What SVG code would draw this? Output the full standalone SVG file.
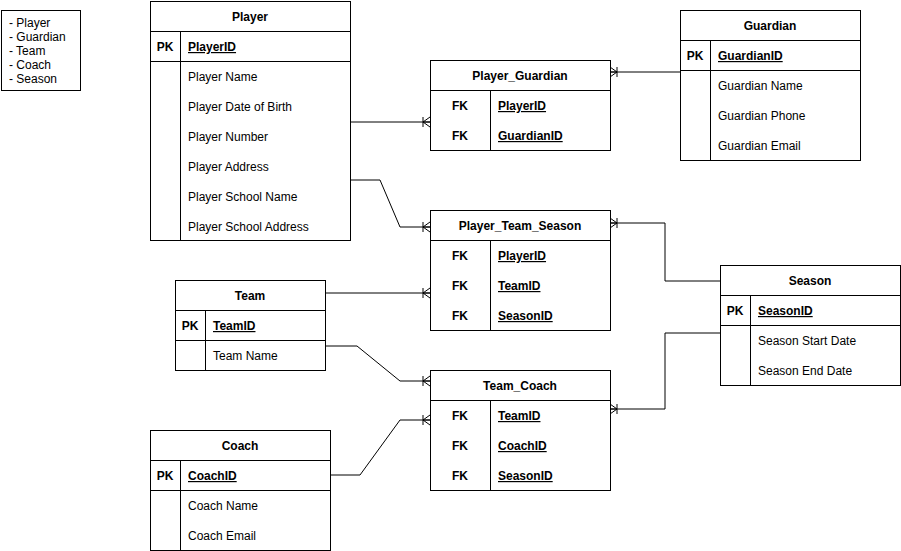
<svg xmlns="http://www.w3.org/2000/svg" width="901" height="551" viewBox="0 0 901 551">
<defs>
<style>
text{font-family:"Liberation Sans",Arial,sans-serif;font-size:12px;fill:#000}
.t{font-weight:bold;text-anchor:middle}
.k{font-weight:bold;text-anchor:middle}
.pk{font-weight:bold;text-decoration:underline}
.box{fill:#fff;stroke:#000;stroke-width:1}
.ln{fill:none;stroke:#000;stroke-width:1}
.c{fill:none;stroke:#000;stroke-width:1}
</style>
<marker id="many" viewBox="0 0 10 12" markerWidth="10" markerHeight="12" refX="10" refY="6" orient="auto" markerUnits="userSpaceOnUse">
<path d="M3,1V11M10,1L3,6L10,11M3,6H10" fill="none" stroke="#000" stroke-width="1"/>
</marker>
</defs>
<rect width="901" height="551" fill="#fff"/>

<g id="legend">
<rect class="box" x="1.5" y="10.5" width="79" height="80"/>
<text x="9" y="27">- Player</text>
<text x="9" y="41">- Guardian</text>
<text x="9" y="55">- Team</text>
<text x="9" y="69">- Coach</text>
<text x="9" y="83">- Season</text>
</g>

<g id="connectors">
<path class="c" d="M350,122H430" marker-end="url(#many)"/>
<path class="c" d="M680,72H610" marker-end="url(#many)"/>
<path class="c" d="M350,180H380L400,227H430" marker-end="url(#many)"/>
<path class="c" d="M720,281H665V223H610" marker-end="url(#many)"/>
<path class="c" d="M720,333H665V409H610" marker-end="url(#many)"/>
<path class="c" d="M325,293H430" marker-end="url(#many)"/>
<path class="c" d="M325,346H357L400,381H430" marker-end="url(#many)"/>
<path class="c" d="M330,475H360L400,420H430" marker-end="url(#many)"/>
</g>

<g id="player">
<rect class="box" x="150.5" y="1.5" width="200" height="239"/>
<path class="ln" d="M150.5,31.5H350.5M150.5,61.5H350.5M180.5,31.5V240.5"/>
<text class="t" x="250" y="21">Player</text>
<text class="k" x="165" y="51">PK</text>
<text class="pk" x="188" y="51">PlayerID</text>
<text x="188" y="81">Player Name</text>
<text x="188" y="111">Player Date of Birth</text>
<text x="188" y="141">Player Number</text>
<text x="188" y="171">Player Address</text>
<text x="188" y="201">Player School Name</text>
<text x="188" y="231">Player School Address</text>
</g>

<g id="guardian">
<rect class="box" x="680.5" y="10.5" width="180" height="150"/>
<path class="ln" d="M680.5,40.5H860.5M680.5,70.5H860.5M710.5,40.5V160.5"/>
<text class="t" x="770" y="30">Guardian</text>
<text class="k" x="695" y="60">PK</text>
<text class="pk" x="718" y="60">GuardianID</text>
<text x="718" y="90">Guardian Name</text>
<text x="718" y="120">Guardian Phone</text>
<text x="718" y="150">Guardian Email</text>
</g>

<g id="player_guardian">
<rect class="box" x="430.5" y="60.5" width="180" height="90"/>
<path class="ln" d="M430.5,90.5H610.5M490.5,90.5V150.5"/>
<text class="t" x="520" y="80">Player_Guardian</text>
<text class="k" x="460" y="110">FK</text>
<text class="pk" x="498" y="110">PlayerID</text>
<text class="k" x="460" y="140">FK</text>
<text class="pk" x="498" y="140">GuardianID</text>
</g>

<g id="player_team_season">
<rect class="box" x="430.5" y="210.5" width="180" height="120"/>
<path class="ln" d="M430.5,240.5H610.5M490.5,240.5V330.5"/>
<text class="t" x="520" y="230">Player_Team_Season</text>
<text class="k" x="460" y="260">FK</text>
<text class="pk" x="498" y="260">PlayerID</text>
<text class="k" x="460" y="290">FK</text>
<text class="pk" x="498" y="290">TeamID</text>
<text class="k" x="460" y="320">FK</text>
<text class="pk" x="498" y="320">SeasonID</text>
</g>

<g id="team">
<rect class="box" x="175.5" y="280.5" width="150" height="90"/>
<path class="ln" d="M175.5,310.5H325.5M175.5,340.5H325.5M205.5,310.5V370.5"/>
<text class="t" x="250" y="300">Team</text>
<text class="k" x="190" y="330">PK</text>
<text class="pk" x="213" y="330">TeamID</text>
<text x="213" y="360">Team Name</text>
</g>

<g id="team_coach">
<rect class="box" x="430.5" y="370.5" width="180" height="120"/>
<path class="ln" d="M430.5,400.5H610.5M490.5,400.5V490.5"/>
<text class="t" x="520" y="390">Team_Coach</text>
<text class="k" x="460" y="420">FK</text>
<text class="pk" x="498" y="420">TeamID</text>
<text class="k" x="460" y="450">FK</text>
<text class="pk" x="498" y="450">CoachID</text>
<text class="k" x="460" y="480">FK</text>
<text class="pk" x="498" y="480">SeasonID</text>
</g>

<g id="coach">
<rect class="box" x="150.5" y="430.5" width="180" height="120"/>
<path class="ln" d="M150.5,460.5H330.5M150.5,490.5H330.5M180.5,460.5V550.5"/>
<text class="t" x="240" y="450">Coach</text>
<text class="k" x="165" y="480">PK</text>
<text class="pk" x="188" y="480">CoachID</text>
<text x="188" y="510">Coach Name</text>
<text x="188" y="540">Coach Email</text>
</g>

<g id="season">
<rect class="box" x="720.5" y="265.5" width="180" height="120"/>
<path class="ln" d="M720.5,295.5H900.5M720.5,325.5H900.5M750.5,295.5V385.5"/>
<text class="t" x="810" y="285">Season</text>
<text class="k" x="735" y="315">PK</text>
<text class="pk" x="758" y="315">SeasonID</text>
<text x="758" y="345">Season Start Date</text>
<text x="758" y="375">Season End Date</text>
</g>
</svg>
